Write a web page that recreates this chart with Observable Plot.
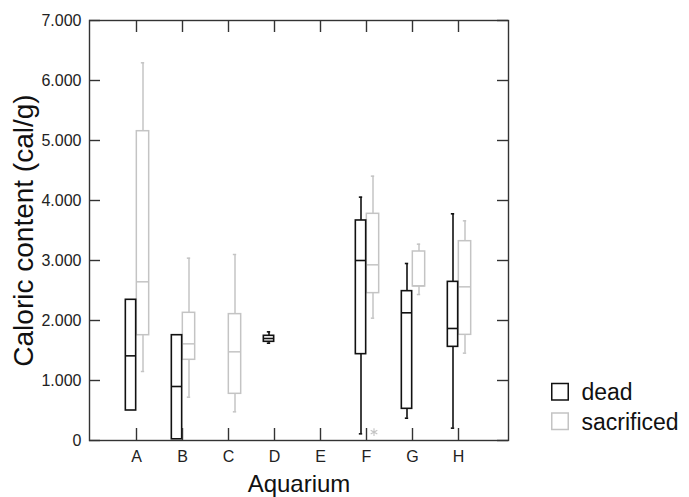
<!DOCTYPE html>
<html>
<head>
<meta charset="utf-8">
<script src="https://cdn.jsdelivr.net/npm/d3@7"></script>
<script src="https://cdn.jsdelivr.net/npm/@observablehq/plot@0.6"></script>
<style>
  html, body { margin: 0; padding: 0; background: white; }
  #chart { width: 689px; height: 497px; }
</style>
</head>
<body>
<div id="chart"></div>
<script>
// ---- data ----
const categories = ["A", "B", "C", "D", "E", "F", "G", "H"];
const groups = ["dead", "sacrificed"];
const yTicks = [0, 1000, 2000, 3000, 4000, 5000, 6000, 7000];

const deadMin    = [500,  20,   null, 1622, null, 111,  372,  206];
const deadQ1     = [500,  20,   null, 1645, null, 1439, 528,  1561];
const deadMedian = [1411, 900,  null, 1700, null, 3000, 2128, 1867];
const deadQ3     = [2345, 1755, null, 1745, null, 3667, 2489, 2644];
const deadMax    = [2345, 1755, null, 1811, null, 4056, 2950, 3778];

const sacMin    = [1150, 722,  478,  null, null, 2039, 2433, 1456];
const sacQ1     = [1755, 1345, 778,  null, null, 2456, 2567, 1761];
const sacMedian = [2645, 1611, 1478, null, null, 2928, 2578, 2561];
const sacQ3     = [5155, 2128, 2106, null, null, 3778, 3150, 3322];
const sacMax    = [6295, 3039, 3100, null, null, 4406, 3272, 3661];

const outlierAquarium = ["F"];
const outlierGroup = ["sacrificed"];
const outlierValue = [139];

// ---- build tables ----
function rows(group, mn, q1, med, q3, mx) {
  return categories.map((c, i) => ({aquarium: c, group, min: mn[i], q1: q1[i], median: med[i], q3: q3[i], max: mx[i]}))
    .filter(d => d.median != null);
}
const dead = rows("dead", deadMin, deadQ1, deadMedian, deadQ3, deadMax);
const sac = rows("sacrificed", sacMin, sacQ1, sacMedian, sacQ3, sacMax);
const outliers = outlierAquarium.map((a, i) => ({aquarium: a, group: outlierGroup[i], value: outlierValue[i]}));

// ---- styles ----
const DEAD = "#111";
const SAC = "#c4c4c4";
const AXIS = "#333";
const FONT = "'Liberation Sans', Arial, Helvetica, sans-serif";
const HALF = 23.33;             // half the band step in px
const frameW = 419, frameH = 420;

const deKS = {insetLeft: HALF - 11, insetRight: HALF};
const saKS = {insetLeft: HALF, insetRight: HALF - 13};
const deadWx = -5.5, sacWx = 6.5;

const fmt = d3.formatLocale({thousands: ".", decimal: ",", grouping: [3], currency: ["", ""]}).format(",");

function boxMarks(data, color, box, wdx, sw) {
  const capL = HALF + wdx - 2, capR = HALF - wdx - 2;
  return [
    Plot.ruleX(data.filter(d => d.max > d.q3), {x: "aquarium", y1: "q3", y2: "max", dx: wdx, stroke: color, strokeWidth: sw}),
    Plot.ruleX(data.filter(d => d.min < d.q1), {x: "aquarium", y1: "min", y2: "q1", dx: wdx, stroke: color, strokeWidth: sw}),
    Plot.tickY(data.filter(d => d.max > d.q3), {x: "aquarium", y: "max", insetLeft: capL, insetRight: capR, stroke: color, strokeWidth: sw}),
    Plot.tickY(data.filter(d => d.min < d.q1), {x: "aquarium", y: "min", insetLeft: capL, insetRight: capR, stroke: color, strokeWidth: sw}),
    Plot.barY(data, {x: "aquarium", y1: "q1", y2: "q3", fill: "white", stroke: color, strokeWidth: sw, ...box}),
    Plot.tickY(data, {x: "aquarium", y: "median", stroke: color, strokeWidth: sw, ...box})
  ];
}

const chart = Plot.plot({
  width: 689,
  height: 497,
  marginLeft: 89,
  marginRight: 181,
  marginTop: 20,
  marginBottom: 57,
  style: {fontFamily: FONT, background: "white", color: "#222"},
  x: {type: "band", domain: categories, paddingInner: 0, paddingOuter: 0.49, align: 0.48},
  y: {domain: [0, 7000]},
  marks: [
    // boxes: sacrificed below, dead on top
    ...boxMarks(sac, SAC, saKS, sacWx, 1.5),
    ...boxMarks(dead, DEAD, deKS, deadWx, 1.6),
    Plot.dot(outliers, {x: "aquarium", y: "value", dx: 7.5, symbol: "asterisk", r: 3.6, stroke: SAC, strokeWidth: 1.1}),
    // frame and inward ticks
    Plot.frame({stroke: AXIS, strokeWidth: 1.4}),
    Plot.ruleY(yTicks, {y: d => d, insetRight: frameW - 11, stroke: AXIS, strokeWidth: 1.4}),
    Plot.ruleY(yTicks, {y: d => d, insetLeft: frameW - 11, stroke: AXIS, strokeWidth: 1.4}),
    Plot.ruleX(categories, {x: d => d, insetBottom: frameH - 12, stroke: AXIS, strokeWidth: 1.4}),
    Plot.ruleX(categories, {x: d => d, insetTop: frameH - 12, stroke: AXIS, strokeWidth: 1.4}),
    // tick labels
    Plot.axisY({ticks: yTicks, tickSize: 0, tickPadding: 8, tickFormat: d => d === 0 ? "0" : fmt(d), fontSize: 16, label: null, fill: "#222"}),
    Plot.axisX({tickSize: 0, tickPadding: 10, fontSize: 16, label: null, fill: "#222"}),
    // axis titles
    Plot.text(["Caloric content (cal/g)"], {text: d => d, frameAnchor: "left", dx: -65, rotate: -90, fontSize: 28, fill: "#111", textAnchor: "middle", lineAnchor: "middle"}),
    Plot.text(["Aquarium"], {text: d => d, frameAnchor: "bottom", dy: 44, fontSize: 24, fill: "#111", textAnchor: "middle", lineAnchor: "middle"}),
    // legend
    Plot.dot(groups, {frameAnchor: "bottom-right", dx: 51.5, dy: -48.7, symbol: "square", r: 9.3, fill: "white",
      stroke: DEAD, strokeWidth: 1.5, filter: d => d === "dead"}),
    Plot.dot(groups, {frameAnchor: "bottom-right", dx: 51.5, dy: -19.2, symbol: "square", r: 9.3, fill: "white",
      stroke: SAC, strokeWidth: 1.5, filter: d => d === "sacrificed"}),
    Plot.text(groups, {text: d => d, frameAnchor: "bottom-right", dx: 73, dy: -47.4, textAnchor: "start", fontSize: 23, fill: "#111", filter: d => d === "dead", lineAnchor: "middle"}),
    Plot.text(groups, {text: d => d, frameAnchor: "bottom-right", dx: 73, dy: -17.4, textAnchor: "start", fontSize: 23, fill: "#111", filter: d => d === "sacrificed", lineAnchor: "middle"})
  ]
});
document.getElementById("chart").appendChild(chart);
</script>
</body>
</html>
